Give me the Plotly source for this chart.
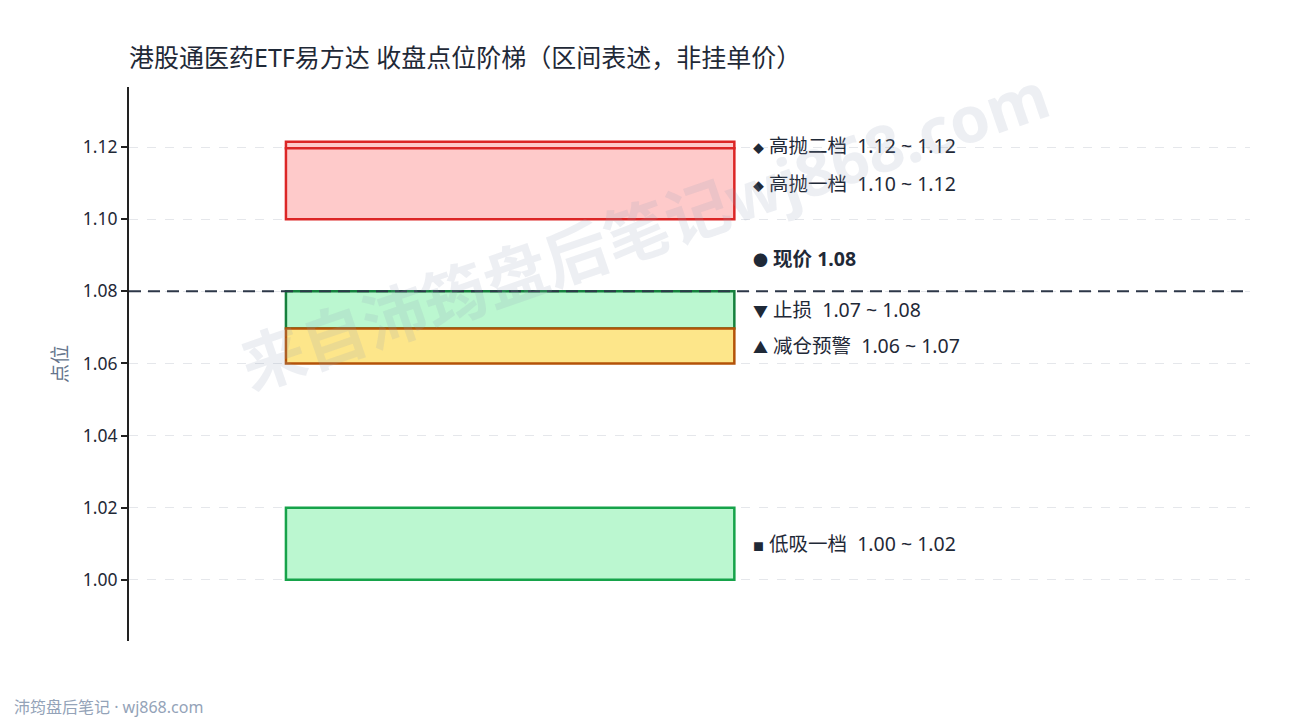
import plotly.graph_objects as go

# 收盘点位阶梯数据
band_names = ["高抛二档", "高抛一档", "止损", "减仓预警", "低吸一档"]
band_icons = ["◆", "◆", "▼", "▲", "■"]
band_low = [1.1197, 1.10, 1.0697, 1.06, 1.00]
band_high = [1.1215, 1.1197, 1.08, 1.0697, 1.02]
band_fill = ["#fecaca", "#fecaca", "#bbf7d0", "#fde68a", "#bbf7d0"]
band_line = ["#dc2626", "#dc2626", "#15803d", "#b45309", "#16a34a"]

current_price = 1.08
y_ticks = [1.00, 1.02, 1.04, 1.06, 1.08, 1.10, 1.12]

FONT = "Noto Sans, Noto Sans CJK SC, sans-serif"
icon_size = {"◆": 11, "■": 11, "▼": 15, "▲": 15}

fig = go.Figure()

for name, lo, hi, fc, lc in zip(band_names, band_low, band_high, band_fill, band_line):
    fig.add_trace(go.Bar(
        x=[0.34], y=[hi - lo], base=[lo], width=[0.4],
        marker=dict(color=fc, line=dict(color=lc, width=2.5)),
        name=name, showlegend=False, hoverinfo="skip",
    ))

# 区间标签
for name, icon, lo, hi in zip(band_names, band_icons, band_low, band_high):
    fig.add_annotation(
        x=0.555, y=(lo + hi) / 2, xref="x", yref="y",
        text=f"<span style='font-size:{icon_size[icon]}px'>{icon}</span> {name}\u00a0\u00a0{lo:.2f}\u00a0~\u00a0{hi:.2f}",
        showarrow=False, xanchor="left", yanchor="middle",
        font=dict(family=FONT, size=19.5, color="#1f2937"),
    )

# 现价
fig.add_hline(y=current_price, line=dict(color="#2d3748", width=2, dash="12px,7px"))
fig.add_annotation(
    x=0.555, y=current_price, xref="x", yref="y", yshift=33,
    text=f"<span style='font-size:15px'>●</span> <b>现价 {current_price:.2f}</b>",
    showarrow=False, xanchor="left", yanchor="middle",
    font=dict(family=FONT, size=19.5, color="#1f2937"),
)

# 水印
fig.add_annotation(
    x=0.46, y=0.742, xref="paper", yref="paper",
    xanchor="center", yanchor="middle",
    text="<b>来自沛筠盘后笔记wj868.com</b>", textangle=-19,
    showarrow=False, font=dict(family=FONT, size=64, color="rgba(148,163,184,0.17)"),
)

# 页脚
fig.add_annotation(
    x=-0.1044, y=-0.119, xref="paper", yref="paper",
    xanchor="left", yanchor="middle",
    text="沛筠盘后笔记 · wj868.com", showarrow=False,
    font=dict(family=FONT, size=16, color="#94a3b8"),
)

fig.update_layout(
    width=1290, height=720,
    margin=dict(l=121, r=48, t=79, b=87),
    paper_bgcolor="white", plot_bgcolor="white",
    barmode="overlay",
    title=dict(
        text="港股通医药ETF易方达 收盘点位阶梯（区间表述，非挂单价）",
        x=121 / 1290, xanchor="left", y=1 - 50 / 720, yanchor="middle",
        font=dict(family=FONT, size=25, color="#1f2937"),
    ),
    font=dict(family=FONT, size=17, color="#1f2937"),
)
fig.update_xaxes(range=[0, 1], visible=False, fixedrange=True)
fig.update_yaxes(
    range=[0.983, 1.1367],
    tickvals=y_ticks, tickformat=".2f",
    showline=True, linecolor="#222222", linewidth=2,
    ticks="outside", ticklen=6, tickwidth=2, tickcolor="#222222",
    showgrid=True, gridcolor="#e5e7eb", griddash="dash", gridwidth=1,
    zeroline=False,
    tickfont=dict(family=FONT, size=17.5, color="#1f2937"),
    title=dict(text="点位", font=dict(family=FONT, size=19, color="#64748b"), standoff=10),
)

fig.write_html("out.html")
